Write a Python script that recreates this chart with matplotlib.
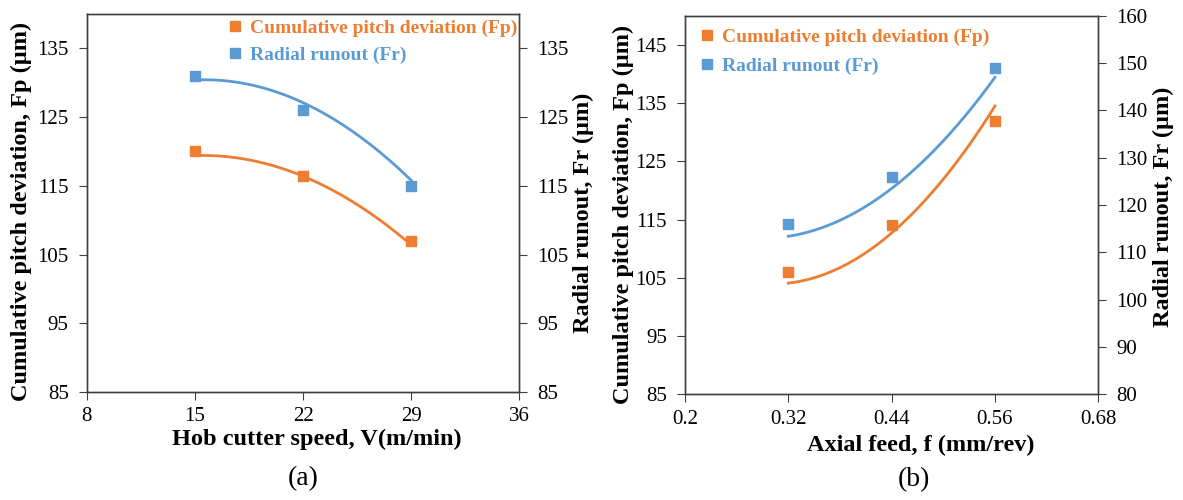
import matplotlib
matplotlib.use("Agg")
import matplotlib.pyplot as plt
from matplotlib.lines import Line2D
import numpy as np

plt.rcParams['font.family'] = ['Liberation Serif', 'DejaVu Serif']

ORANGE = '#ED7D31'
BLUE = '#5B9BD5'

# (a) hob cutter speed
speed = [15, 22, 29]
fp_speed = [120, 116.5, 107]
fr_speed = [131, 126, 115]
# trend line values read at the same speeds
fp_speed_trend = [119.4, 116.4, 106.4]
fr_speed_trend = [130.4, 127.1, 115.8]
speed_ticks = [8, 15, 22, 29, 36]

# (b) axial feed
feed = [0.32, 0.44, 0.56]
fp_feed = [106, 114, 132]
fr_feed = [116, 126, 149]
fp_feed_trend = [104.1, 112.7, 134.5]
fr_feed_trend = [113.4, 123.5, 147.0]
feed_ticks = [0.2, 0.32, 0.44, 0.56, 0.68]
feed_tick_labels = ['0.2', '0.32', '0.44', '0.56', '0.68']

TICK_FS = 15
LABEL_FS = 17.5
LEG_FS = 14


def trend(ax, x, y, color):
    coef = np.polyfit(x, y, 2)
    xs = np.linspace(min(x), max(x), 100)
    ax.plot(xs, np.polyval(coef, xs), color=color, lw=2, zorder=2)


def style(ax):
    for s in ax.spines.values():
        s.set_color('#404040')
        s.set_linewidth(1.0)
    ax.tick_params(labelsize=TICK_FS, direction='out', length=6, pad=7, color='#404040')
    ax.tick_params(axis='x', pad=5)


def legend(ax, anchor, spacing):
    handles = [Line2D([], [], ls='', marker='s', ms=7, color=ORANGE),
               Line2D([], [], ls='', marker='s', ms=7, color=BLUE)]
    ax.legend(handles, ['Cumulative pitch deviation (Fp)', 'Radial runout (Fr)'],
              loc='upper left', bbox_to_anchor=anchor, frameon=False,
              handlelength=0.6, handletextpad=0.45, labelspacing=spacing,
              borderaxespad=0, borderpad=0,
              prop={'weight': 'bold', 'size': LEG_FS}, labelcolor=[ORANGE, BLUE])


def labels(ax, axr, xlabel, xpos, lpos, rpos):
    ax.set_xlabel(xlabel, fontsize=LABEL_FS, fontweight='bold')
    ax.xaxis.set_label_coords(*xpos)
    ax.xaxis.label.set_va('center')
    ax.set_ylabel('Cumulative pitch deviation, Fp (µm)', fontsize=LABEL_FS, fontweight='bold')
    ax.yaxis.set_label_coords(*lpos)
    ax.yaxis.label.set_va('center')
    axr.set_ylabel('Radial runout, Fr (µm)', fontsize=LABEL_FS, fontweight='bold')
    axr.yaxis.set_label_coords(*rpos)
    axr.yaxis.label.set_va('center')


fig = plt.figure(figsize=(11.83, 5.0), dpi=100)

# panel (a)
ax1 = fig.add_axes([0.0733, 0.216, 0.3657, 0.756])
ax1r = ax1.twinx()
ax1.scatter(speed, fp_speed, marker='s', s=50, color=ORANGE, zorder=3)
trend(ax1, speed, fp_speed_trend, ORANGE)
ax1r.scatter(speed, fr_speed, marker='s', s=50, color=BLUE, zorder=3)
trend(ax1r, speed, fr_speed_trend, BLUE)
for a in (ax1, ax1r):
    a.set_ylim(85, 140)
    a.set_yticks(range(85, 136, 10))
    style(a)
ax1.set_xlim(8, 36)
ax1.set_xticks(speed_ticks)
labels(ax1, ax1r, 'Hob cutter speed, V(m/min)', (0.532, -0.126), (-0.15, 0.4775), (1.147, 0.4735))
legend(ax1r, (0.33, 0.985), 0.45)
fig.text(303 / 1183, 1 - 479 / 500, '(a)', fontsize=20, ha='center', va='center')

# panel (b)
ax2 = fig.add_axes([0.579, 0.2114, 0.3494, 0.757])
ax2r = ax2.twinx()
ax2.scatter(feed, fp_feed, marker='s', s=50, color=ORANGE, zorder=3)
trend(ax2, feed, fp_feed_trend, ORANGE)
ax2r.scatter(feed, fr_feed, marker='s', s=50, color=BLUE, zorder=3)
trend(ax2r, feed, fr_feed_trend, BLUE)
ax2.set_ylim(85, 150)
ax2.set_yticks(range(85, 146, 10))
ax2r.set_ylim(80, 160)
ax2r.set_yticks(range(80, 161, 10))
for a in (ax2, ax2r):
    style(a)
ax2.set_xlim(0.2, 0.68)
ax2.set_xticks(feed_ticks)
ax2.set_xticklabels(feed_tick_labels)
labels(ax2, ax2r, 'Axial feed, f (mm/rev)', (0.571, -0.135), (-0.15, 0.476), (1.1566, 0.496))
legend(ax2r, (0.04, 0.967), 0.6)
fig.text(914 / 1183, 1 - 480 / 500, '(b)', fontsize=20, ha='center', va='center')

fig.savefig('out.png', dpi=100)
